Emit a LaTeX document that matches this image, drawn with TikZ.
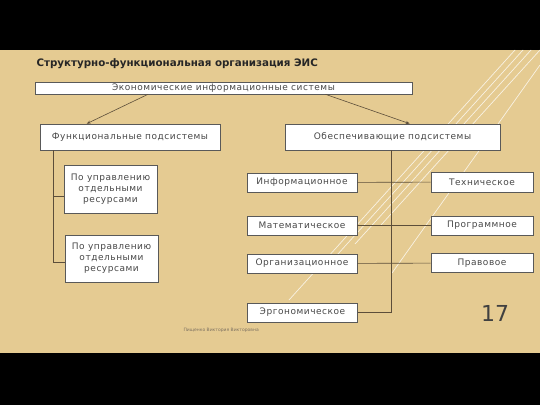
\documentclass[tikz,border=0pt]{standalone}
\usepackage{fontspec}
\setmainfont{DejaVu Sans}
\newfontfamily\boxfont{DejaVu Sans}[LetterSpace=6]
\usetikzlibrary{calc,arrows.meta}
\definecolor{parch}{RGB}{229,203,146}
\definecolor{wirecol}{RGB}{92,78,58}
\definecolor{boxtext}{RGB}{72,72,72}
\tikzset{
	card/.style={draw=black!65, fill=white, line width=0.6pt, text=boxtext, font=\boxfont\fontsize{9}{11}\selectfont, inner sep=1pt, align=center},
	wire/.style={draw=wirecol, line width=0.6pt},
	gleam/.style={draw=white, opacity=0.75, line width=0.7pt},
}

\begin{document}
\begin{tikzpicture}[x=1pt, y=-1pt]
				\useasboundingbox (0,0) rectangle (540,405);
				\fill[black] (0,0) rectangle (540,405);
				\fill[parch] (0,50) rectangle (540,353);

				\draw[gleam] (289,300) -- (515,50);
				\draw[gleam] (337,255) -- (523,50);
				\draw[gleam] (355,244) -- (531,50);
				\draw[gleam] (381,225) -- (540,50);
				\draw[gleam] (392,273) -- (540,65);

				\node[anchor=west, font=\bfseries\fontsize{10.3}{12}\selectfont, text=black!85] (title) at (33,64) {Структурно-функциональная организация ЭИС};

				\node[card, minimum width=377pt, minimum height=12pt] (eis) at (223.5,88) {Экономические информационные системы};
				\node[card, minimum width=180pt, minimum height=26pt] (func) at (130,137) {Функциональные подсистемы};
				\node[card, minimum width=215pt, minimum height=26pt] (prov) at (392.5,137) {Обеспечивающие подсистемы};

				\node[card, minimum width=93pt, minimum height=48pt] (res1) at (110.5,189) {По управлению\\отдельными\\ресурсами};
				\node[card, minimum width=93pt, minimum height=47pt] (res2) at (111.5,258.5) {По управлению\\отдельными\\ресурсами};

				\node[card, minimum width=110pt, minimum height=19pt] (inf) at (302,182.5) {Информационное};
				\node[card, minimum width=110pt, minimum height=19pt] (mat) at (302,225.5) {Математическое};
				\node[card, minimum width=110pt, minimum height=19pt] (org) at (302,263.5) {Организационное};
				\node[card, minimum width=110pt, minimum height=19pt] (erg) at (302.5,312.5) {Эргономическое};

				\node[card, minimum width=102pt, minimum height=20pt] (tech) at (482,182) {Техническое};
				\node[card, minimum width=102pt, minimum height=19pt] (prog) at (482,225.5) {Программное};
				\node[card, minimum width=102pt, minimum height=19pt] (prav) at (482,263) {Правовое};

				\draw[wire, -{Stealth[length=4pt, width=3pt]}] ($(eis.south west)!.3!(eis.south east)$) -- ($(func.north west)!.26!(func.north east)$);
				\draw[wire, -{Stealth[length=4pt, width=3pt]}] ($(eis.south west)!.77!(eis.south east)$) -- ($(prov.north west)!.58!(prov.north east)$);

				\draw[wire] (func.south west) ++(14,0) coordinate (ftrunk) |- ([yshift=-7pt]res1.west);
				\draw[wire] (ftrunk) |- ([yshift=-3.5pt]res2.west);

				\draw[wire] (prov.south west) ++(107,0) coordinate (ptrunk) |- (erg.east);
				\draw[wire] (inf) -- (tech);
				\draw[wire] (mat) -- (prog);
				\draw[wire] (org) -- (prav);

				\node[font=\fontsize{22}{24}\selectfont, text=black!75] (page) at (495,313) {17};
				\node[font=\fontsize{4.5}{5}\selectfont, text=wirecol!80, anchor=west] (author) at (180,330) {Пищенко Виктория Викторовна};
\end{tikzpicture}
\end{document}
